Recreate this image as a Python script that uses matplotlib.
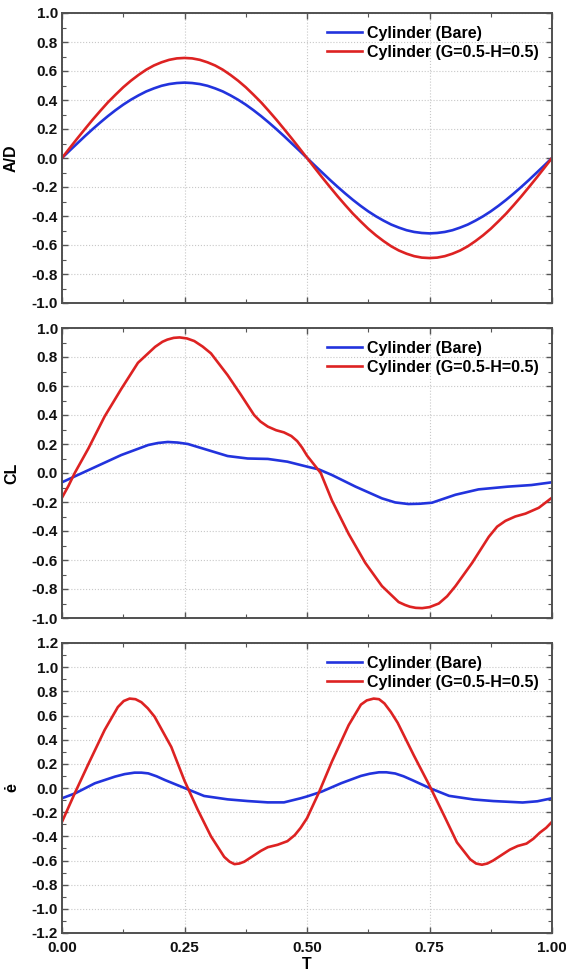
import numpy as np
import matplotlib
matplotlib.use('Agg')
import matplotlib.pyplot as plt
from matplotlib.ticker import MultipleLocator, FormatStrFormatter

plt.rcParams['font.family'] = ['Liberation Sans', 'DejaVu Sans']
plt.rcParams['font.weight'] = 'bold'
plt.rcParams['axes.unicode_minus'] = False

labels = ['Cylinder (Bare)', 'Cylinder (G=0.5-H=0.5)']
colors = ['#2233dd', '#dd2222']

# A/D (read every 1/64 of a period)
t_ad = np.arange(65) / 64
ad_bare = [0, .051, .101, .151, .199, .245, .289, .330, .368, .402, .432, .459, .480, .498, .510, .517, .520,
           .517, .510, .498, .480, .459, .432, .402, .368, .330, .289, .245, .199, .151, .101, .051, 0,
           -.051, -.101, -.151, -.199, -.245, -.289, -.330, -.368, -.402, -.432, -.459, -.480, -.498, -.510, -.517, -.520,
           -.517, -.510, -.498, -.480, -.459, -.432, -.402, -.368, -.330, -.289, -.245, -.199, -.151, -.101, -.051, 0]
ad_gh = [0, .068, .135, .200, .264, .325, .384, .437, .488, .533, .573, .609, .638, .660, .677, .687, .690,
         .687, .677, .660, .638, .609, .573, .533, .488, .437, .384, .325, .264, .200, .135, .068, 0,
         -.068, -.135, -.200, -.264, -.325, -.384, -.437, -.488, -.533, -.573, -.609, -.638, -.660, -.677, -.687, -.690,
         -.687, -.677, -.660, -.638, -.609, -.573, -.533, -.488, -.437, -.384, -.325, -.264, -.200, -.135, -.068, 0]

# CL
t_cl_bare = [0, .054, .121, .176, .196, .216, .236, .257, .297, .338, .379, .42, .46, .5, .524, .551, .599,
             .653, .68, .707, .73, .755, .803, .85, .91, .958, 1.0]
cl_bare = [-.064, .02, .124, .193, .207, .214, .21, .20, .159, .117, .10, .097, .078, .044, .025, -.014, -.094,
           -.175, -.203, -.214, -.212, -.205, -.15, -.113, -.094, -.083, -.064]
t_cl_gh = [0, .013, .026, .054, .087, .121, .155, .19, .205, .215, .228, .24, .255, .27, .287, .304, .338, .365,
           .392, .405, .42, .437, .453, .468, .48, .49, .5, .514, .528, .551, .585, .619, .653, .687, .70, .71,
           .722, .735, .75, .769, .786, .803, .837, .871, .888, .905, .925, .946, .973, 1.0]
cl_gh = [-.17, -.09, 0, .17, .39, .58, .76, .87, .905, .92, .932, .935, .928, .91, .872, .825, .675, .54,
         .40, .355, .32, .295, .28, .255, .22, .175, .12, .06, 0, -.19, -.42, -.62, -.78, -.89, -.91, -.922,
         -.93, -.932, -.925, -.90, -.85, -.78, -.62, -.44, -.37, -.33, -.30, -.28, -.24, -.17]

# e-dot
t_e_bare = [0, .027, .067, .108, .128, .148, .162, .176, .193, .21, .25, .29, .338, .379, .42, .453, .487, .5,
            .53, .57, .61, .628, .647, .662, .68, .697, .715, .75, .79, .84, .88, .94, .97, 1.0]
e_bare = [-.085, -.044, .039, .094, .115, .127, .127, .121, .097, .066, 0, -.066, -.094, -.108, -.119, -.119,
          -.085, -.07, -.03, .04, .10, .118, .13, .13, .12, .097, .065, 0, -.065, -.095, -.108, -.12, -.11, -.085]
t_e_gh = [0, .026, .054, .087, .114, .126, .138, .15, .162, .175, .189, .223, .25, .277, .304, .331, .342, .352,
          .362, .372, .389, .406, .42, .44, .46, .475, .487, .5, .524, .551, .585, .61, .622, .636, .647, .658,
          .671, .685, .718, .75, .78, .806, .833, .845, .857, .868, .88, .897, .914, .93, .948, .962, .975,
          .988, 1.0]
e_gh = [-.28, -.044, .2, .48, .67, .72, .74, .735, .71, .66, .59, .34, .06, -.18, -.40, -.57, -.61, -.63,
        -.625, -.61, -.565, -.52, -.49, -.47, -.44, -.39, -.33, -.25, -.04, .22, .52, .69, .725, .74, .735, .70,
        .63, .54, .27, .02, -.23, -.45, -.59, -.625, -.635, -.625, -.60, -.555, -.51, -.48, -.46, -.42, -.37,
        -.33, -.28]

panels = [
    ('A/D', (t_ad, ad_bare), (t_ad, ad_gh), (-1.0, 1.0)),
    ('CL', (t_cl_bare, cl_bare), (t_cl_gh, cl_gh), (-1.0, 1.0)),
    ('\u0117', (t_e_bare, e_bare), (t_e_gh, e_gh), (-1.2, 1.2)),
]

fig = plt.figure(figsize=(5.66, 9.74), dpi=100)
fig.patch.set_facecolor('w')

left, width, height = 62/566, 490/566, 290/974
bottoms = [1 - 303/974, 1 - 618/974, 1 - 933/974]

for i, (ylab, bare, gh, ylim) in enumerate(panels):
    ax = fig.add_axes([left, bottoms[i], width, height])
    ax.plot(bare[0], bare[1], color=colors[0], lw=1.9, label=labels[0])
    ax.plot(gh[0], gh[1], color=colors[1], lw=1.9, label=labels[1])
    ax.set_xlim(0, 1)
    ax.set_ylim(*ylim)
    ax.xaxis.set_major_locator(MultipleLocator(0.25))
    ax.xaxis.set_minor_locator(MultipleLocator(0.125))
    ax.yaxis.set_major_locator(MultipleLocator(0.2))
    ax.yaxis.set_minor_locator(MultipleLocator(0.1))
    ax.yaxis.set_major_formatter(FormatStrFormatter('%.1f'))
    ax.xaxis.set_major_formatter(FormatStrFormatter('%.2f'))
    ax.tick_params(which='both', direction='in', top=True, right=True, color='#555555',
                   labelsize=11, labelcolor='#111111')
    ax.tick_params(which='major', length=4, width=1, pad=3)
    ax.tick_params(which='minor', length=3, width=0.8)
    ax.tick_params(axis='x', which='major', pad=6)
    for sp in ax.spines.values():
        sp.set_color('#505050')
        sp.set_linewidth(1.4)
    ax.grid(True, which='major', linestyle=':', color='#c8c8c8', linewidth=0.8)
    ax.set_ylabel(ylab, fontsize=11.5, fontweight='bold')
    ax.yaxis.set_label_coords(-0.088, 0.5)
    if i < 2:
        ax.tick_params(labelbottom=False)
    else:
        ax.set_xlabel('T', fontsize=11.5, fontweight='bold', labelpad=1)
    ax.legend(loc='upper right', bbox_to_anchor=(0.995, 0.995), frameon=False, fontsize=11.5,
              handlelength=2.2, handletextpad=0.3, labelspacing=0.25, borderaxespad=0.3)

fig.savefig('out.png', dpi=100)
